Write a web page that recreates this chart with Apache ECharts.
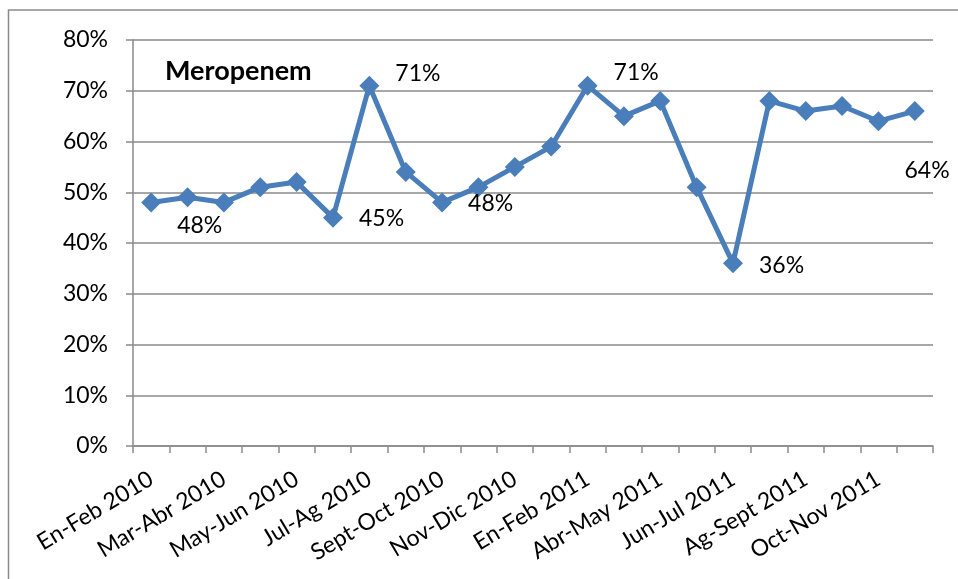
<!DOCTYPE html>
<html>
<head>
<meta charset="utf-8">
<script src="https://cdn.jsdelivr.net/npm/echarts@6/dist/echarts.min.js"></script>
<style>
  html, body { margin: 0; padding: 0; background: #fff; }
  #chart { width: 958px; height: 579px; }
</style>
</head>
<body>
<div id="chart"></div>
<script>
// Bimonthly periods (every other one is labelled on the axis)
const categories = [
  'En-Feb 2010', 'Feb-Mar 2010', 'Mar-Abr 2010', 'Abr-May 2010',
  'May-Jun 2010', 'Jun-Jul 2010', 'Jul-Ag 2010', 'Ag-Sept 2010',
  'Sept-Oct 2010', 'Oct-Nov 2010', 'Nov-Dic 2010', 'Dic 2010-En 2011',
  'En-Feb 2011', 'Mar-Abr 2011', 'Abr-May 2011', 'May-Jun 2011',
  'Jun-Jul 2011', 'Jul-Ag 2011', 'Ag-Sept 2011', 'Sept-Oct 2011',
  'Oct-Nov 2011', 'Nov-Dic 2011'
];

// Meropenem percentage per period
const meropenem = [48, 49, 48, 51, 52, 45, 71, 54, 48, 51, 55, 59,
                   71, 65, 68, 51, 36, 68, 66, 67, 64, 66];

// Points that carry a value label, with the label's vertical shift
const labelledPoints = [0, 5, 6, 8, 12, 16, 20];
const labelShift = { 0: 23, 5: 1, 6: -12, 8: 1, 12: -13, 16: 2, 20: 49 };

const yTicks = [0, 10, 20, 30, 40, 50, 60, 70, 80];

const FONT = 'Lato';
const GRAY = '#8a8a8a';
const BLUE = '#4a7ebb';

const seriesData = meropenem.map((v, i) => {
  const item = { value: v };
  if (labelledPoints.includes(i)) {
    item.label = {
      show: true,
      position: 'right',
      distance: 16,
      offset: [0, labelShift[i]],
      formatter: '{c}%',
      fontFamily: FONT,
      fontSize: 23,
      color: '#000'
    };
  }
  return item;
});

const chart = echarts.init(document.getElementById('chart'), null, { renderer: 'canvas' });

chart.setOption({
  backgroundColor: '#fff',
  animation: false,
  graphic: [{
    type: 'rect',
    shape: { x: 8.5, y: 10, width: 1200, height: 1200 },
    style: { fill: 'none', stroke: GRAY, lineWidth: 1.5 },
    silent: true
  }, {
    type: 'text',
    left: 165,
    top: 58,
    style: {
      text: 'Meropenem',
      font: 'bold 27px ' + FONT,
      fill: '#000'
    }
  }],
  grid: { left: 133, right: 25, top: 40, bottom: 133, containLabel: false },
  xAxis: {
    type: 'category',
    data: categories,
    boundaryGap: true,
    axisLine: { lineStyle: { color: GRAY, width: 1.5 } },
    axisTick: { show: true, interval: 0, length: 7, lineStyle: { color: GRAY, width: 1.5 } },
    axisLabel: {
      interval: 1,
      rotate: 31,
      margin: 31,
      fontFamily: FONT,
      fontSize: 23,
      color: '#000'
    },
    splitLine: { show: false }
  },
  yAxis: {
    type: 'value',
    min: yTicks[0],
    max: yTicks[yTicks.length - 1],
    interval: 10,
    axisLine: { show: true, lineStyle: { color: GRAY, width: 1.5 } },
    axisTick: { show: true, length: 7, lineStyle: { color: GRAY, width: 1.5 } },
    axisLabel: {
      margin: 25,
      formatter: '{value}%',
      fontFamily: FONT,
      fontSize: 23,
      color: '#000'
    },
    splitLine: { show: true, lineStyle: { color: GRAY, width: 1.5 } }
  },
  series: [{
    type: 'line',
    data: seriesData,
    symbol: 'diamond',
    symbolSize: 20,
    lineStyle: { color: BLUE, width: 5 },
    itemStyle: { color: BLUE },
    label: { show: false }
  }]
});
</script>
</body>
</html>
